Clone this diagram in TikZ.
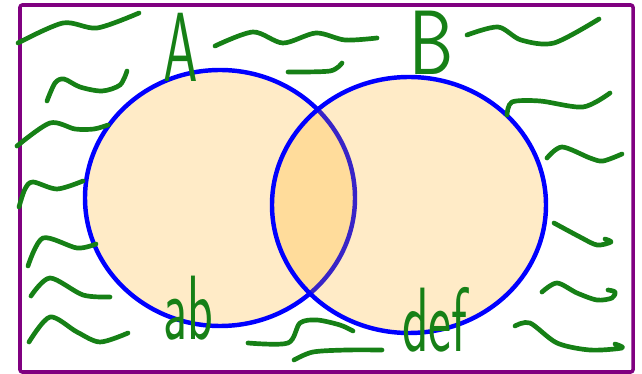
\documentclass[tikz,border=0pt]{standalone}
\usetikzlibrary{positioning}
\definecolor{framepurple}{RGB}{128,0,128}
\definecolor{ringblue}{RGB}{0,0,255}
\definecolor{penorange}{RGB}{255,165,0}
\definecolor{pengreen}{RGB}{22,128,22}

\begin{document}
\begin{tikzpicture}[
  x=0.03cm, y=-0.03cm,
  frame/.style={draw=framepurple, line width=3pt, rounded corners=2pt},
  setfill/.style={fill=penorange, fill opacity=0.22},
  ring/.style={draw=ringblue, line width=3.8pt},
  squig/.style={draw=pengreen, line width=4pt, line cap=round, line join=round},
  hand/.style={text=pengreen, font=\sffamily\fontsize{78}{80}\selectfont, inner sep=0pt, anchor=base},
]
\useasboundingbox (0,0) rectangle (642,374);
\draw[frame] (20,5) rectangle (633,372);

\coordinate (cA) at (220,198);
\coordinate (cB) at (409,205);

\path[setfill] (cA) ellipse [x radius=135, y radius=128];
\draw[ring] (cA) ellipse [x radius=135, y radius=128];
\path[setfill] (cB) ellipse [x radius=137, y radius=128];
\draw[ring] (cB) ellipse [x radius=137, y radius=128];

\draw[squig] plot[smooth] coordinates {(18,43) (63,23) (97,28) (139,13)};
\draw[squig] plot[smooth] coordinates {(47,101) (55,83) (64,79) (80,87) (102,91) (120,85) (127,71)};
\draw[squig] plot[smooth] coordinates {(17,146) (50,123) (75,129) (94,129) (108,125)};
\draw[squig] plot[smooth] coordinates {(19,207) (25,189) (33,182) (57,189) (83,181)};
\draw[squig] plot[smooth] coordinates {(28,266) (43,238) (77,248) (96,244)};
\draw[squig] plot[smooth] coordinates {(31,296) (50,278) (83,295) (110,297)};
\draw[squig] plot[smooth] coordinates {(29,342) (50,317) (77,332) (100,342) (128,333)};
\draw[squig] plot[smooth] coordinates {(215,46) (253,32) (283,43) (316,33) (345,40) (377,38)};
\draw[squig] plot[smooth] coordinates {(288,72) (330,71) (342,63)};
\draw[squig] plot[smooth] coordinates {(467,35) (498,27) (521,40) (554,43) (599,19)};
\draw[squig] plot[smooth] coordinates {(507,115) (512,102) (540,101) (583,107) (610,93)};
\draw[squig] plot[smooth] coordinates {(547,158) (562,147) (590,158) (603,161) (622,154)};
\draw[squig] plot[smooth] coordinates {(554,223) (580,237) (597,245) (611,242) (605,239)};
\draw[squig] plot[smooth] coordinates {(542,292) (557,283) (577,293) (597,300) (612,298) (615,292) (608,290)};
\draw[squig] plot[smooth] coordinates {(515,326) (530,323) (557,343) (590,350) (622,348) (615,344)};
\draw[squig] plot[smooth] coordinates {(248,343) (288,343) (300,323) (317,320) (340,325) (353,331)};
\draw[squig] plot[smooth] coordinates {(294,360) (313,352) (347,350) (382,350)};

\node[hand] (labA) at (181,82) {\fontsize{84}{86}\selectfont\scalebox{0.56}[1]{A}};
\node[hand] (labB) at (432,75) {\scalebox{0.77}[1]{B}};
\node[hand] (elemA) at (188,340) {\scalebox{0.58}[1]{ab}};
\node[hand] (elemB) at (435,352) {\scalebox{0.6}[1]{def}};

\end{tikzpicture}
\end{document}
